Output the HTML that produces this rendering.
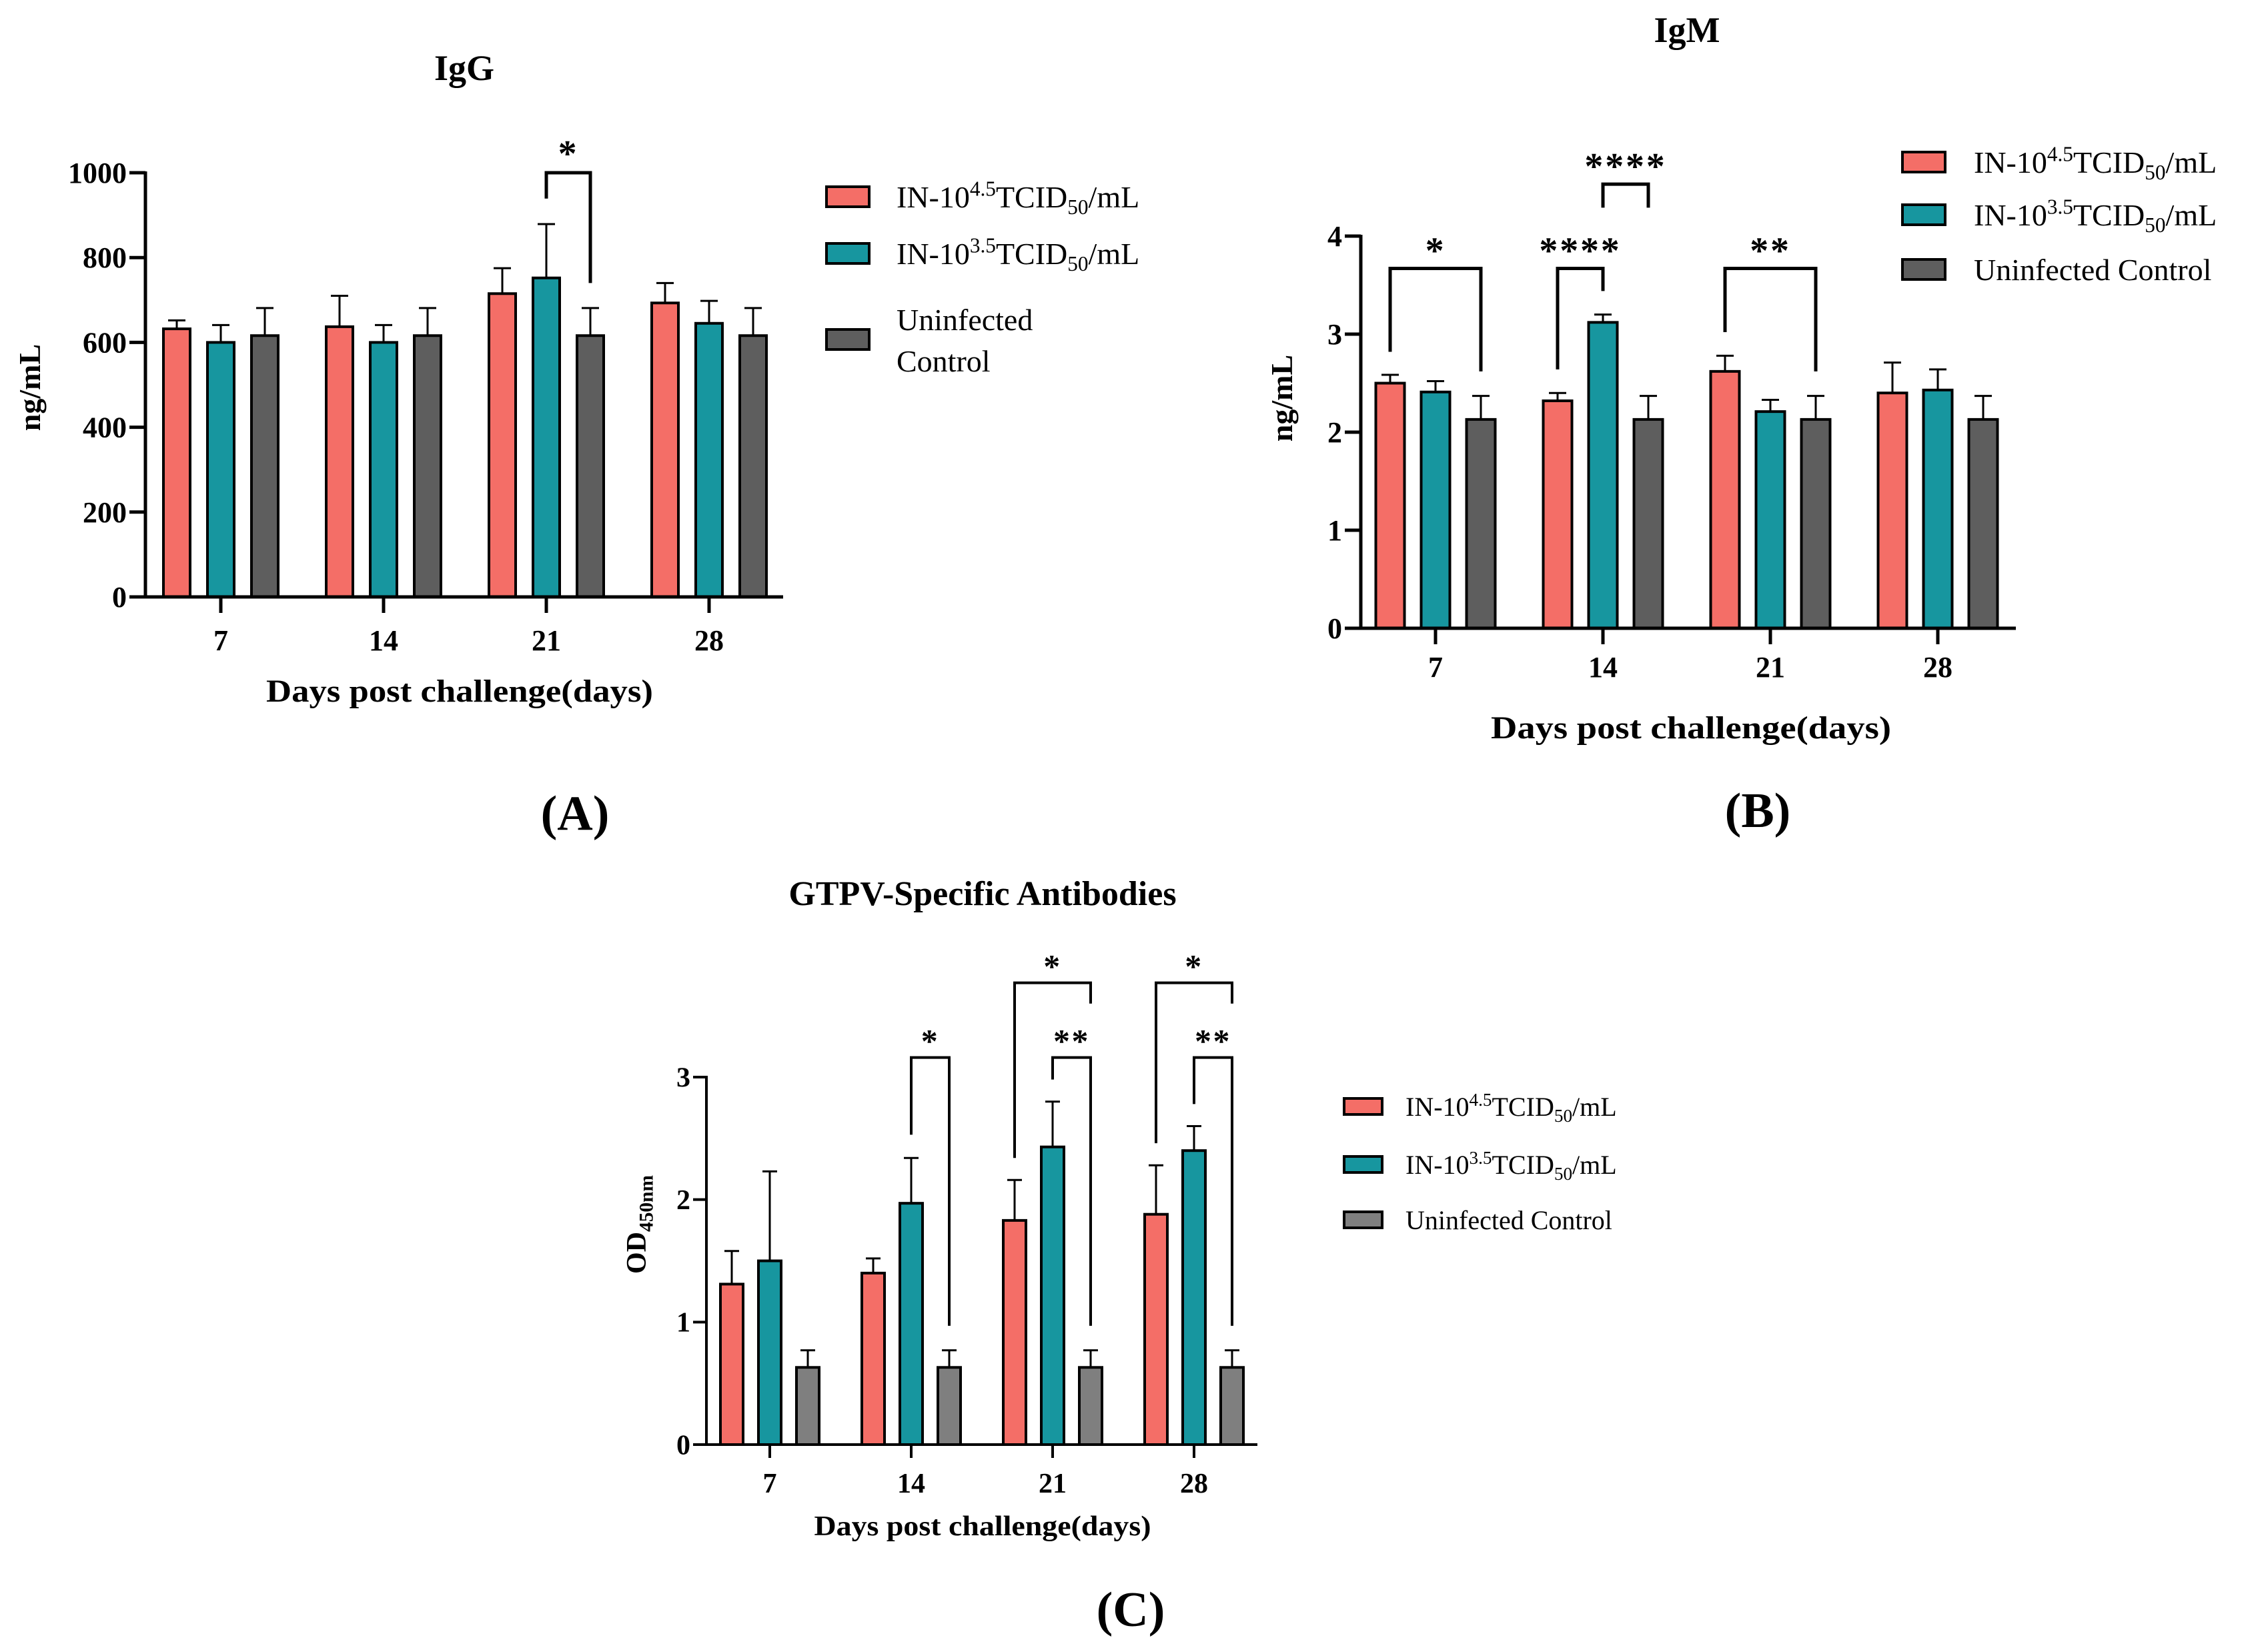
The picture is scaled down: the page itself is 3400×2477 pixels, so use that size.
<!DOCTYPE html>
<html><head><meta charset="utf-8">
<style>
html,body{margin:0;padding:0;background:#fff;}
svg{display:block;}
text{font-family:"Liberation Serif",serif;fill:#000;}
</style></head>
<body>
<svg id="fig" width="3400" height="2477" viewBox="0 0 3400 2477" xmlns="http://www.w3.org/2000/svg"></svg>
<script>
const categories = ["7","14","21","28"];
const seriesNames = ["IN-10^4.5", "IN-10^3.5", "Uninfected Control"];
// Chart A: IgG
const iggRed = [632, 637, 715, 693];
const iggTeal = [600, 600, 752, 645];
const iggGrey = [616, 616, 616, 616];
const iggRedErr = [20, 73, 60, 47];
const iggTealErr = [41, 41, 127, 53];
const iggGreyErr = [65, 65, 65, 65];
const iggTicks = [0, 200, 400, 600, 800, 1000];
// Chart B: IgM
const igmRed = [2.50, 2.32, 2.62, 2.40];
const igmTeal = [2.41, 3.12, 2.21, 2.43];
const igmGrey = [2.13, 2.13, 2.13, 2.13];
const igmRedErr = [0.085, 0.08, 0.16, 0.31];
const igmTealErr = [0.11, 0.08, 0.12, 0.21];
const igmGreyErr = [0.24, 0.24, 0.24, 0.24];
const igmTicks = [0, 1, 2, 3, 4];
// Chart C: GTPV-specific
const odRed = [1.31, 1.40, 1.83, 1.88];
const odTeal = [1.50, 1.97, 2.43, 2.40];
const odGrey = [0.63, 0.63, 0.63, 0.63];
const odRedErr = [0.27, 0.12, 0.33, 0.40];
const odTealErr = [0.73, 0.37, 0.37, 0.20];
const odGreyErr = [0.14, 0.14, 0.14, 0.14];
const odTicks = [0, 1, 2, 3];
// significance brackets: group, from series, to series, top value, left leg end, right leg end, label
const iggSig = [{g:2, a:1, b:2, top:1000, l:939, r:740, s:"*"}];
const igmSig = [
  {g:0, a:0, b:2, top:3.67, l:2.82, r:2.62, s:"*"},
  {g:1, a:0, b:1, top:3.67, l:2.64, r:3.44, s:"****"},
  {g:1, a:1, b:2, top:4.53, l:4.29, r:4.29, s:"****"},
  {g:2, a:0, b:2, top:3.67, l:3.02, r:2.62, s:"**"}
];
const odSig = [
  {g:1, a:1, b:2, top:3.16, l:2.53, r:0.97, s:"*"},
  {g:2, a:0, b:2, top:3.77, l:2.34, r:3.60, s:"*"},
  {g:2, a:1, b:2, top:3.16, l:2.98, r:0.97, s:"**"},
  {g:3, a:0, b:2, top:3.77, l:2.46, r:3.60, s:"*"},
  {g:3, a:1, b:2, top:3.16, l:2.78, r:0.97, s:"**"}
];

const NS = "http://www.w3.org/2000/svg";
const svg = document.getElementById("fig");
function el(tag, attrs, parent){
  const e = document.createElementNS(NS, tag);
  for (const k in attrs) e.setAttribute(k, attrs[k]);
  (parent||svg).appendChild(e);
  return e;
}
const RED="#f46e67", TEAL="#17969f";

function legendText(parent, x, y, fs, exp, name){
  const t = el("text", {x:x, y:y, "font-size":fs}, parent);
  if (!exp){ t.textContent = name; return t; }
  const a = el("tspan", {}, t); a.textContent = "IN-10";
  const b = el("tspan", {dy:-fs*0.38, "font-size":fs*0.68}, t); b.textContent = exp;
  const c = el("tspan", {dy:fs*0.38}, t); c.textContent = "TCID";
  const d = el("tspan", {dy:fs*0.22, "font-size":fs*0.68}, t); d.textContent = "50";
  const e2 = el("tspan", {dy:-fs*0.22}, t); e2.textContent = "/mL";
  return t;
}

function drawChart(c){
  const g = el("g", {});
  
  
  const ys = v => c.y0 - v / c.max * (c.y0 - c.yTop);
  const xs = i => c.x0 + i * c.step;
  const data = [c.red, c.teal, c.grey];
  const errs = [c.redErr, c.tealErr, c.greyErr];
  const cols = [RED, TEAL, c.greyCol];
  const sw = c.lw;
  for (let s=0; s<3; s++){
    for (let i=0; i<data[s].length; i++){
      const cx = xs(i) + (s-1)*c.off;
      const v = data[s][i], e = errs[s][i];
      const top = ys(v + e), bot = c.twoSided ? ys(v - e) : ys(v);
      const eb = el("path", {d:`M${cx} ${bot}V${top}M${cx-c.cap/2} ${top}H${cx+c.cap/2}` + (c.twoSided?`M${cx-c.cap/2} ${bot}H${cx+c.cap/2}`:""), stroke:"#000", "stroke-width":3, fill:"none"}, g);
      
      
      const r = el("rect", {x:cx-c.bw/2, y:ys(v), width:c.bw, height:c.y0-ys(v), fill:cols[s], stroke:"#000", "stroke-width":sw}, g);
      
      
    }
  }
  const ax = el("path", {d:`M${c.axX} ${c.yTop-2}V${c.y0}H${c.xEnd}`, stroke:"#000", "stroke-width":c.axW, fill:"none"}, g);
  
  
  c.ticks.forEach(t => {
    const y = ys(t);
    el("path", {d:`M${c.axX-c.tl} ${y}H${c.axX}`, stroke:"#000", "stroke-width":c.axW}, g);
    const tx = el("text", {x:c.axX-c.tl-4, y:y+c.tfs*0.34, "font-size":c.tfs, "font-weight":"bold", "text-anchor":"end"}, g);
    
    
    tx.textContent = t;
  });
  categories.forEach((cat, i) => {
    const x = xs(i);
    el("path", {d:`M${x} ${c.y0}V${c.y0+c.tl}`, stroke:"#000", "stroke-width":c.axW}, g);
    const tx = el("text", {x:x, y:c.xtY, "font-size":c.tfs, "font-weight":"bold", "text-anchor":"middle"}, g);
    
    
    tx.textContent = cat;
  });
  c.sig.forEach(b => {
    const xa = xs(b.g) + (b.a-1)*c.off, xb = xs(b.g) + (b.b-1)*c.off;
    const p = el("path", {d:`M${xa} ${ys(b.l)}V${ys(b.top)}H${xb}V${ys(b.r)}`, stroke:"#000", "stroke-width":c.sigW, fill:"none"}, g);
    
    
    const st = el("text", {x:(xa+xb)/2, y:ys(b.top)-c.starGap, "font-size":c.starFs, "font-family":"Liberation Sans, sans-serif", "font-weight":"bold", "text-anchor":"middle", "letter-spacing":c.starFs*0.05}, g);
    
    
    st.textContent = b.s;
  });
  const ti = el("text", {x:c.titleX, y:c.titleY, "font-size":c.titleFs, "font-weight":"bold", "text-anchor":"middle"}, g);
  
  
  ti.textContent = c.title;
  const xt = el("text", {x:c.xTitleX, y:c.xTitleY, "font-size":c.xTitleFs, "font-weight":"bold", "text-anchor":"middle", textLength:c.xTitleLen, lengthAdjust:"spacingAndGlyphs"}, g);
  
  
  xt.textContent = "Days post challenge(days)";
  const yt = el("text", {x:0, y:0, "font-size":c.yTitleFs, "font-weight":"bold", "text-anchor":"middle", transform:`translate(${c.yTitleX},${c.yTitleY}) rotate(-90)`}, g);
  
  
  if (c.od){
    const a = el("tspan", {}, yt); a.textContent = "OD";
    const b2 = el("tspan", {dy:c.yTitleFs*0.25, "font-size":c.yTitleFs*0.7}, yt); b2.textContent = "450nm";
  } else yt.textContent = "ng/mL";
  c.leg.forEach((L, k) => {
    const r = el("rect", {x:c.legX, y:L.y - c.legH/2, width:c.legW, height:c.legH, fill:cols[k], stroke:"#000", "stroke-width":sw}, g);
    
    
    L.lines.forEach((ln, j) => {
      const t = legendText(g, c.legTX, L.ty + j*c.legFs*1.35, c.legFs, k<2 ? (k==0?"4.5":"3.5") : null, ln);
      
      
    });
  });
  const pl = el("text", {x:c.panelX, y:c.panelY, "font-size":74, "font-weight":"bold", "text-anchor":"middle"}, g);
  
  
  pl.textContent = c.panel;
}

drawChart({name:"chart-igg", red:iggRed, teal:iggTeal, grey:iggGrey, redErr:iggRedErr, tealErr:iggTealErr, greyErr:iggGreyErr,
  ticks:iggTicks, sig:iggSig, max:1000, y0:895, yTop:259, axX:218, xEnd:1174, x0:331, step:244, off:66, bw:40, cap:26,
  twoSided:false, greyCol:"#5e5e5e", lw:4, axW:5, tl:24, tfs:44, xtY:975, sigW:5, starFs:56, starGap:10,
  title:"IgG", titleX:696, titleY:120, titleFs:54, xTitleX:689, xTitleY:1052, xTitleFs:48, xTitleLen:580,
  yTitleX:60, yTitleY:581, yTitleFs:46, legX:1239, legW:64, legH:30, legTX:1344, legFs:46,
  leg:[{y:295, ty:311, lines:["x"]},{y:380, ty:396, lines:["x"]},{y:509, ty:495, lines:["Uninfected","Control"]}],
  panel:"(A)", panelX:862, panelY:1244});
drawChart({name:"chart-igm", red:igmRed, teal:igmTeal, grey:igmGrey, redErr:igmRedErr, tealErr:igmTealErr, greyErr:igmGreyErr,
  ticks:igmTicks, sig:igmSig, max:4, y0:942, yTop:354, axX:2040, xEnd:3022, x0:2152, step:251, off:68, bw:43, cap:26,
  twoSided:true, greyCol:"#5e5e5e", lw:4, axW:5, tl:24, tfs:44, xtY:1015, sigW:5, starFs:56, starGap:8,
  title:"IgM", titleX:2529, titleY:63, titleFs:54, xTitleX:2535, xTitleY:1107, xTitleFs:48, xTitleLen:600,
  yTitleX:1937, yTitleY:597, yTitleFs:46, legX:2852, legW:64, legH:30, legTX:2959, legFs:46,
  leg:[{y:243, ty:259, lines:["x"]},{y:322, ty:338, lines:["x"]},{y:404, ty:420, lines:["Uninfected Control"]}],
  panel:"(B)", panelX:2635, panelY:1240});
drawChart({name:"chart-gtpv", red:odRed, teal:odTeal, grey:odGrey, redErr:odRedErr, tealErr:odTealErr, greyErr:odGreyErr,
  ticks:odTicks, sig:odSig, max:3, y0:2166, yTop:1615, axX:1059, xEnd:1885, x0:1154, step:212, off:57, bw:34, cap:22,
  twoSided:false, greyCol:"#7f7f7f", lw:4, axW:4, tl:20, tfs:42, xtY:2238, sigW:4, starFs:50, starGap:8, od:true,
  title:"GTPV-Specific Antibodies", titleX:1473, titleY:1357, titleFs:52, xTitleX:1473, xTitleY:2302, xTitleFs:42, xTitleLen:505,
  yTitleX:968, yTitleY:1836, yTitleFs:42, legX:2015, legW:57, legH:24, legTX:2107, legFs:40,
  leg:[{y:1659, ty:1673, lines:["x"]},{y:1746, ty:1760, lines:["x"]},{y:1829, ty:1843, lines:["Uninfected Control"]}],
  panel:"(C)", panelX:1695, panelY:2438});
</script>
</body></html>
